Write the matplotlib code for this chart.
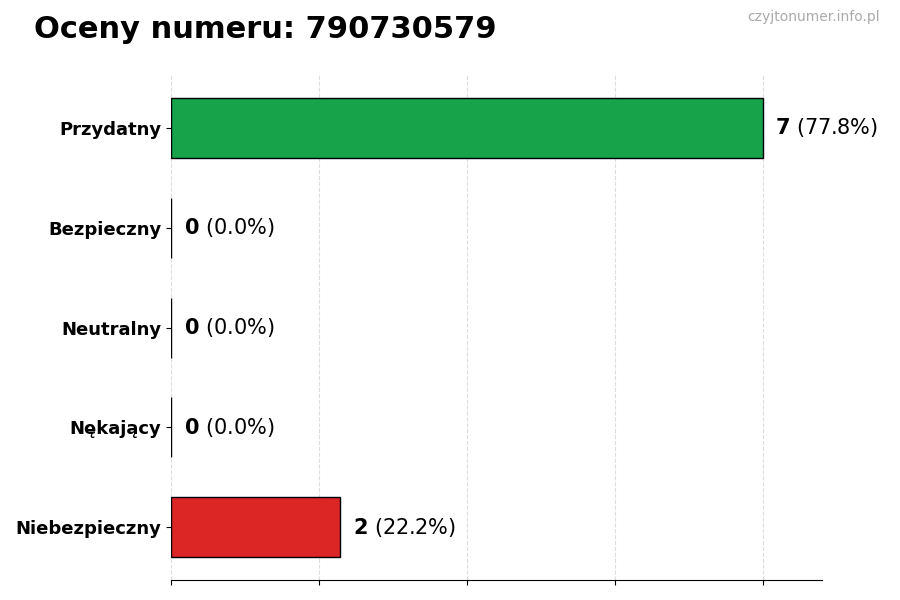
import numpy as np
import matplotlib.pyplot as plt

# oceny numeru telefonu
categories = ['Przydatny', 'Bezpieczny', 'Neutralny', 'Nękający', 'Niebezpieczny']
counts = [7, 0, 0, 0, 2]
colors = ['#16a34a', '#9ca3af', '#6b7280', '#f59e0b', '#dc2626']

total = sum(counts)
y = np.arange(len(categories))[::-1]

fig = plt.figure(figsize=(9, 6), dpi=100)
ax = fig.add_axes([0.19, 0.033, 0.723, 0.842])

ax.barh(y, counts, height=0.6, color=colors, edgecolor='black', linewidth=1, zorder=2)
ax.set_yticks(y)
ax.set_yticklabels(categories, fontsize=13, fontweight='bold')

xmax = max(counts)
ax.set_xlim(0, xmax * 1.1)
ax.set_xticks(np.linspace(0, xmax, 5))
ax.set_xticklabels([])
ax.grid(axis='x', linestyle='--', color='#dddddd', linewidth=0.8, zorder=3)
ax.grid(axis='y', visible=False)

for s in ['top', 'right', 'left']:
    ax.spines[s].set_visible(False)

# etykiety: liczba pogrubiona + procent
for yi, c in zip(y, counts):
    pct = c / total * 100
    ax.annotate(f'$\\bf{{{c}}}$ ({pct:.1f}%)', (c, yi), xytext=(9, 0),
                textcoords='offset points', va='center', ha='left', fontsize=15)

fig.text(0.038, 0.95, 'Oceny numeru: 790730579', fontsize=22, fontweight='bold', va='center')
fig.text(0.978, 0.972, 'czyjtonumer.info.pl', fontsize=10, color='#aaaaaa', ha='right', va='center')

plt.savefig('out.png', dpi=100)
